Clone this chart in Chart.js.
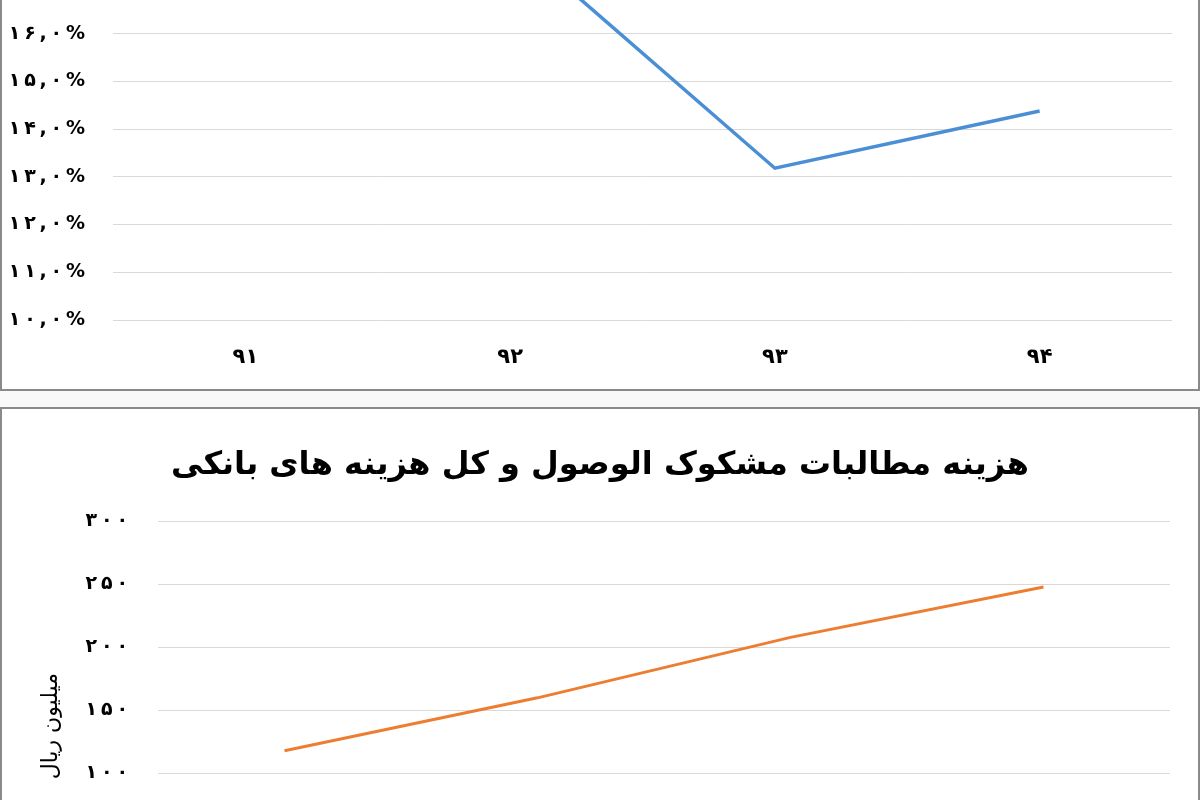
<!DOCTYPE html>
<html>
<head>
<meta charset="utf-8">
<script src="https://cdn.jsdelivr.net/npm/chart.js@4.4.1/dist/chart.umd.min.js"></script>
<style>
  html, body { margin: 0; padding: 0; width: 1200px; height: 800px; overflow: hidden; background: #f9f9f9; }
  .panel { position: absolute; left: 0; width: 1196px; border: 2px solid #8a8a8a; background: #fff; }
  #topPanel { top: -21px; height: 408px; }
  #bottomPanel { top: 407px; height: 500px; }
  canvas { position: absolute; left: 0; }
  #ratioChart { top: -149px; }
  #costChart { top: 408px; }
</style>
</head>
<body>
<div class="panel" id="topPanel"></div>
<div class="panel" id="bottomPanel"></div>
<canvas id="ratioChart" width="1200" height="539"></canvas>
<canvas id="costChart" width="1200" height="593"></canvas>
<script>
// داده ها
const years = ['۹۱', '۹۲', '۹۳', '۹۴'];
const ratioValues = [17.5, 18.0, 13.18, 14.38]; // درصد
const costValues = [118, 160, 208, 248]; // میلیون ریال
const chartTitle = 'هزینه مطالبات مشکوک الوصول و کل هزینه های بانکی';
const yTitle = 'میلیون ریال';

const faFont = 'DejaVu Sans';
const gridColor = '#d9d9d9';

// تبدیل ارقام به فارسی
const toFa = s => String(s).replace(/\d/g, d => '۰۱۲۳۴۵۶۷۸۹'[d]);
const spaced = s => s.split('').join('\u2009');

Chart.defaults.font.family = faFont;
Chart.defaults.color = '#000';

// نمودار بالا - درصد
new Chart(document.getElementById('ratioChart').getContext('2d'), {
    type: 'line',
    data: {
        labels: years,
        datasets: [{
            data: ratioValues,
            borderColor: '#4a8fd6',
            borderWidth: 3.5,
            pointRadius: 0,
            tension: 0,
            fill: false
        }]
    },
    options: {
        responsive: false,
        animation: false,
        layout: { padding: { top: 20, right: 28, left: 0, bottom: 0 } },
        plugins: { legend: { display: false }, tooltip: { enabled: false } },
        scales: {
            x: {
                offset: true,
                grid: { display: false, drawTicks: false },
                border: { display: false },
                ticks: { padding: 25, font: { size: 21, weight: 'bold' } },
                afterFit: s => { s.height = 70; }
            },
            y: {
                min: 10,
                max: 19,
                ticks: {
                    stepSize: 1,
                    padding: 28,
                    font: { size: 19, weight: 'bold' },
                    callback: v => spaced(toFa(v.toFixed(1)).replace('.', ',') + '%')
                },
                grid: { color: gridColor, drawTicks: false },
                border: { display: false },
                afterFit: s => { s.width = 113; }
            }
        }
    }
});

// نمودار پایین - میلیون ریال
new Chart(document.getElementById('costChart').getContext('2d'), {
    type: 'line',
    data: {
        labels: years,
        datasets: [{
            data: costValues,
            borderColor: '#ed7d31',
            borderWidth: 3,
            pointRadius: 0,
            tension: 0,
            fill: false
        }]
    },
    options: {
        responsive: false,
        animation: false,
        layout: { padding: { top: 0, right: 30, left: 30, bottom: 0 } },
        plugins: {
            legend: { display: false },
            tooltip: { enabled: false },
            title: {
                display: true,
                text: chartTitle,
                color: '#000',
                font: { size: 32, weight: 'bold', lineHeight: 1.2 },
                padding: { top: 38, bottom: 37 }
            }
        },
        scales: {
            x: {
                offset: true,
                grid: { display: false, drawTicks: false },
                border: { display: false },
                ticks: { padding: 25, font: { size: 21, weight: 'bold' } },
                afterFit: s => { s.height = 70; }
            },
            y: {
                min: -25,
                max: 300,
                ticks: {
                    stepSize: 50,
                    padding: 30,
                    font: { size: 19, weight: 'bold' },
                    callback: v => spaced(toFa(v))
                },
                grid: { color: gridColor, drawTicks: false },
                border: { display: false },
                title: {
                    display: true,
                    text: yTitle,
                    font: { size: 22 },
                    padding: { top: 8 }
                },
                afterFit: s => { s.width = 128; }
            }
        }
    }
});
</script>
</body>
</html>
